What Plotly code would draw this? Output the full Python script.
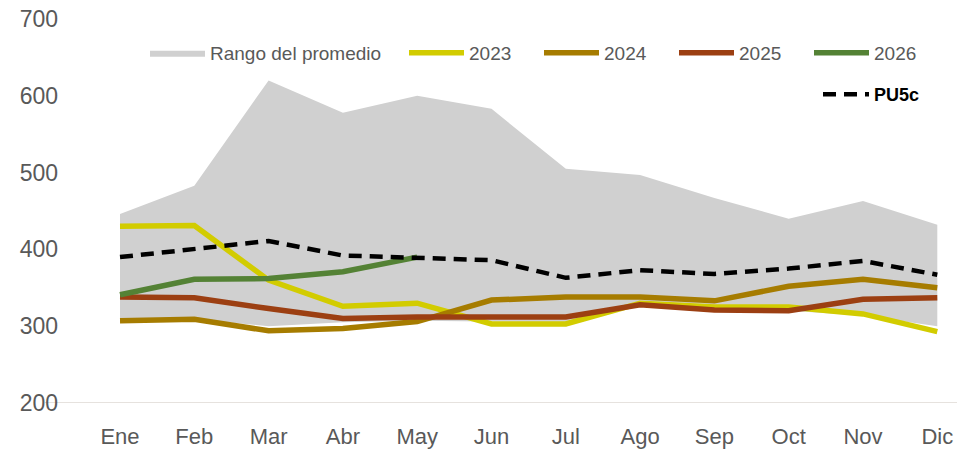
import plotly.graph_objects as go

meses = ["Ene", "Feb", "Mar", "Abr", "May", "Jun", "Jul", "Ago", "Sep", "Oct", "Nov", "Dic"]

rango_max = [446, 483, 620, 578, 600, 583, 505, 497, 467, 440, 463, 432]
rango_min = [307, 309, 300, 305, 307, 306, 305, 328, 320, 320, 314, 300]

y2023 = [430, 431, 360, 326, 330, 303, 303, 330, 325, 325, 316, 293]
y2024 = [307, 309, 294, 297, 306, 334, 338, 338, 333, 352, 361, 350]
y2025 = [338, 337, 323, 310, 312, 312, 312, 328, 321, 320, 335, 337]
y2026 = [341, 361, 362, 371, 390]
pu5c = [390, 401, 411, 392, 389, 386, 363, 373, 368, 375, 385, 367]

x = list(range(12))
FONT = "Liberation Sans, Arial, sans-serif"
GRAY_TXT = "#595959"

W, H = 957, 449
ML = 59
MR = 0
PW = W - ML - MR
SP = 74.3

fig = go.Figure()
fig.add_trace(go.Scatter(x=x, y=rango_min, mode="lines", line=dict(width=0, color="#d0d0d0"),
                         showlegend=False, hoverinfo="skip"))
fig.add_trace(go.Scatter(x=x, y=rango_max, mode="lines", fill="tonexty", fillcolor="#d0d0d0",
                         line=dict(width=0, color="#d0d0d0"), name="Rango del promedio", legend="legend"))
for name, vals, col in [("2023", y2023, "#d2cc00"), ("2024", y2024, "#a67c00"),
                        ("2025", y2025, "#9c3f12"), ("2026", y2026, "#548235")]:
    fig.add_trace(go.Scatter(x=x[:len(vals)], y=vals, mode="lines", name=name,
                             line=dict(color=col, width=5.5), legend="legend2"))
fig.add_trace(go.Scatter(x=x, y=pu5c, mode="lines", name="PU5c",
                         line=dict(color="black", width=4.5, dash="13px,8px"), legend="legend3"))

fig.add_shape(type="line", xref="paper", yref="y", x0=(45 - ML) / PW, x1=1.0, y0=200, y1=200,
              line=dict(color="#e6e2de", width=2), layer="below")

x_left = -(120 - ML) / SP
x_right = x_left + PW / SP

fig.update_layout(
    width=W, height=H,
    margin=dict(l=ML, r=MR, t=19, b=H - 403, autoexpand=False),
    paper_bgcolor="white", plot_bgcolor="white",
    font=dict(family=FONT, color=GRAY_TXT),
    xaxis=dict(range=[x_left, x_right], tickmode="array", tickvals=x, ticktext=meses,
               showgrid=False, zeroline=False, showline=False, ticks="",
               tickfont=dict(size=22, color=GRAY_TXT), ticklabelstandoff=18, automargin=False,
               ticklabeloverflow="allow"),
    yaxis=dict(range=[200, 700], tickvals=[200, 300, 400, 500, 600, 700], showgrid=False,
               zeroline=False, showline=False, ticks="", automargin=False,
               tickfont=dict(size=23, color=GRAY_TXT), ticklabeloverflow="allow"),
    legend=dict(xref="container", yref="container", x=145/W, y=1-34/H, xanchor="left", yanchor="top",
                orientation="h", font=dict(size=19, color=GRAY_TXT), bgcolor="rgba(0,0,0,0)",
                itemwidth=55),
    legend2=dict(xref="container", yref="container", x=404/W, y=1-34/H, xanchor="left", yanchor="top",
                 orientation="h", font=dict(size=19, color=GRAY_TXT), bgcolor="rgba(0,0,0,0)",
                 entrywidth=65, itemwidth=55),
    legend3=dict(xref="container", yref="container", x=818/W, y=1-76/H, xanchor="left", yanchor="top",
                 orientation="h", font=dict(size=18, color="black", family="Liberation Sans, Arial",
                                            weight="bold"),
                 bgcolor="white", itemwidth=46),
    showlegend=True,
)
fig.write_html("out.html", config={"displayModeBar": False},
               post_script="document.body.style.margin='0';document.body.style.overflow='hidden';")
